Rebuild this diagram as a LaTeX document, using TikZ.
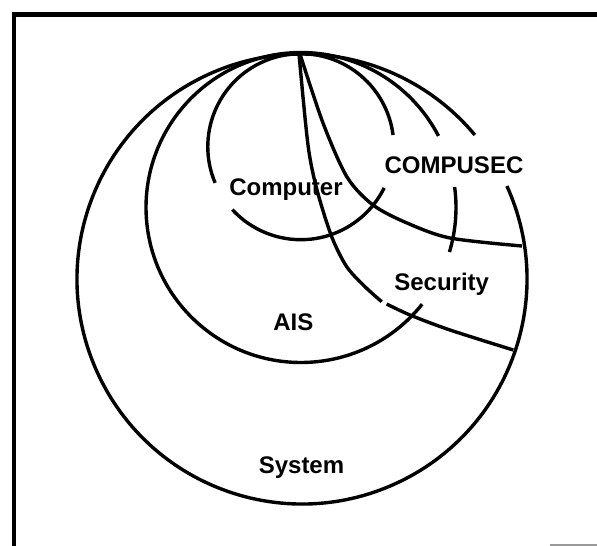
\documentclass[tikz,border=0pt]{standalone}
\usepackage{fontspec}
\setmainfont{Liberation Sans}
\begin{document}
\begin{tikzpicture}[x=1pt,y=-1pt,
  ring/.style={line width=3.4pt},
  frameline/.style={line width=4.5pt},
  lbl/.style={font=\fontsize{24}{28}\selectfont\bfseries, inner sep=0pt, anchor=base}]
\useasboundingbox (0,0) rectangle (597,546);
% frame
\draw[frameline] (14,546) -- (14,14.5) -- (597,14.5);
\draw[black!40, line width=1.2pt] (550,545) -- (597,545);
% centres
\coordinate (sysC) at (302,279);
\coordinate (aisC) at (301,207.5);
\coordinate (cmpC) at (300.8,146.7);
% System circle
\draw[ring] (sysC) ++(-24.4:225) arc[start angle=-24.4, end angle=320.2, radius=225];
% AIS circle
\draw[ring] (aisC) ++(-7.6:155) arc[start angle=-7.6, end angle=16.7, radius=155];
\draw[ring] (aisC) ++(38.6:155) arc[start angle=38.6, end angle=332.5, radius=155];
% Computer circle
\draw[ring] (cmpC) ++(26.3:93) arc[start angle=26.3, end angle=137.4, radius=93];
\draw[ring] (cmpC) ++(157.1:93) arc[start angle=157.1, end angle=352.8, radius=93];
% Security boundary
\draw[ring] plot[smooth] coordinates {(299,54) (308,145) (317,190) (331.7,236.7) (346.7,266.7) (365,286.7) (381.7,301.7)};
\draw[ring] plot[smooth] coordinates {(386.7,304) (410,315) (450,330) (513.3,350)};
% COMPUSEC boundary
\draw[ring] plot[smooth] coordinates {(300,54) (323,123) (347,177) (373,205) (407,223) (450,238) (522,246)};
% labels
\node[lbl] (computer) at (286,195.5) {Computer};
\node[lbl] (compusec) at (454,173.3) {COMPUSEC};
\node[lbl] (security) at (441.7,290) {Security};
\node[lbl] (ais) at (293.3,330) {AIS};
\node[lbl] (system) at (301.5,473.3) {System};
\end{tikzpicture}
\end{document}
